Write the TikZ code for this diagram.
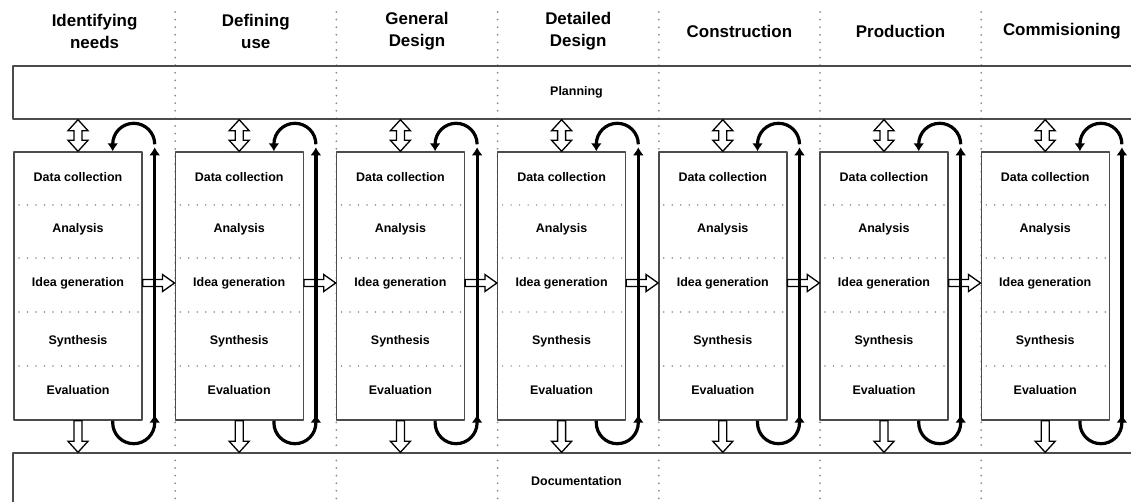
\documentclass[tikz,border=0pt]{standalone}
\usepackage{fontspec}
\setmainfont{Liberation Sans}
\usetikzlibrary{positioning,calc,arrows,arrows.meta}

\tikzset{
  stagehead/.style={align=center, font=\bfseries\fontsize{17}{22}\selectfont},
  stepbox/.style={draw=black!70, line width=1.4bp, fill=white, minimum width=128bp,
    minimum height=268bp, inner sep=0pt},
  steptext/.style={font=\bfseries\fontsize{12.5}{14}\selectfont},
  bandbox/.style={draw=black!70, line width=1.4bp, font=\bfseries\fontsize{12.5}{14}\selectfont},
  coldots/.style={draw=black!45, line width=2bp, line cap=round, dash pattern=on 0bp off 7.6bp},
  rowdots/.style={draw=black!45, line width=1.7bp, line cap=round, dash pattern=on 0bp off 8.5bp},
  loopline/.style={line width=3.2bp, -{Latex[length=8bp,width=11bp]}},
  hollow/.style={draw=black, line width=1.3bp, fill=white, line join=miter},
  % hollow arrow pointing down
  hdown/.style={hollow, to path={
    ($(\tikztostart)+(-4,0)$) -- ($(\tikztotarget)+(-4,-11)$) -- ++(-6,0) -- (\tikztotarget)
    -- ++(10,-11) -- ++(-6,0) -- ($(\tikztostart)+(4,0)$) -- cycle}},
  % hollow arrow pointing right
  hright/.style={hollow, to path={
    ($(\tikztostart)+(0,-3.5)$) -- ($(\tikztotarget)+(-12,-3.5)$) -- ++(0,-5) -- (\tikztotarget)
    -- ++(-12,8.5) -- ++(0,-5) -- ($(\tikztostart)+(0,3.5)$) -- cycle}},
  % hollow arrow with two heads
  hupdown/.style={hollow, to path={
    (\tikztostart) -- ++(10,11) -- ++(-6,0) -- ($(\tikztotarget)+(4,-11)$) -- ++(6,0)
    -- (\tikztotarget) -- ++(-10,-11) -- ++(6,0) -- ($(\tikztostart)+(-4,11)$) -- ++(-6,0) -- cycle}},
}

\begin{document}
\begin{tikzpicture}[x=1bp, y=-1bp, line join=bevel]
  \useasboundingbox (0,0) rectangle (1131,502);
  \clip (0,0) rectangle (1131,502);

  % column separators
  \foreach \k in {0,...,5}
    \draw[coldots] (175.2+161.2*\k,12) -- (175.2+161.2*\k,502);

  % stage headings
  \foreach \h [count=\i from 0] in {{Identifying\\needs},{Defining\\use},{General\\Design},
      {Detailed\\Design},{Construction},{Production},{Commisioning}}
    \node[stagehead] (h\i) at (94.6+161.2*\i,31) {\h};

  % bands
  \node[bandbox, minimum width=1127bp, minimum height=53bp] (plan) at (576.5,92.5) {Planning};
  \node[bandbox, minimum width=1127bp, minimum height=56bp] (doc) at (576.5,481) {Documentation};

  % Node: step boxes
  \foreach \i in {0,...,6} {
    \pgfmathsetmacro\xc{78+161.2*\i}
    \node[stepbox] (b\i) at (\xc,286) {};
    \foreach \y in {205,258,312,366}
      \draw[rowdots] (\xc-59,\y) -- (\xc+61,\y);
    \foreach \t/\y [count=\r] in {Data collection/177,Analysis/229,Idea generation/283,
        Synthesis/341,Evaluation/390}
      \node[steptext] (t\i-\r) at (\xc,\y) {\t};
    \coordinate (pu\i) at (b\i.north |- plan.south);
    \coordinate (dd\i) at (b\i.south |- doc.north);
    \draw[hupdown] (pu\i) to (b\i.north);
    \draw[hdown] (b\i.south) to (dd\i);
  }

  % flow between stages
  \foreach \i [evaluate=\i as \j using int(\i+1)] in {0,...,5} {
    \coordinate (ro\i) at ([yshift=3bp]b\i.east);
    \coordinate (ri\i) at (b\j.west |- ro\i);
    \draw[hright] (ro\i) to (ri\i);
  }

  % feedback loops
  \foreach \i in {0,...,6} {
    \draw[loopline] ([xshift=12bp]b\i.south east) -- ([xshift=12bp,yshift=4bp]b\i.north east);
    \draw[loopline] ([xshift=12bp,yshift=7bp]b\i.north east)
      arc[start angle=0, end angle=180, radius=21bp] -- ([xshift=-30bp]b\i.north east);
    \draw[loopline] ([xshift=-30bp]b\i.south east) -- ++(0,2)
      arc[start angle=180, end angle=360, radius=21bp] -- ([xshift=12bp,yshift=6bp]b\i.south east);
  }
\end{tikzpicture}
\end{document}
